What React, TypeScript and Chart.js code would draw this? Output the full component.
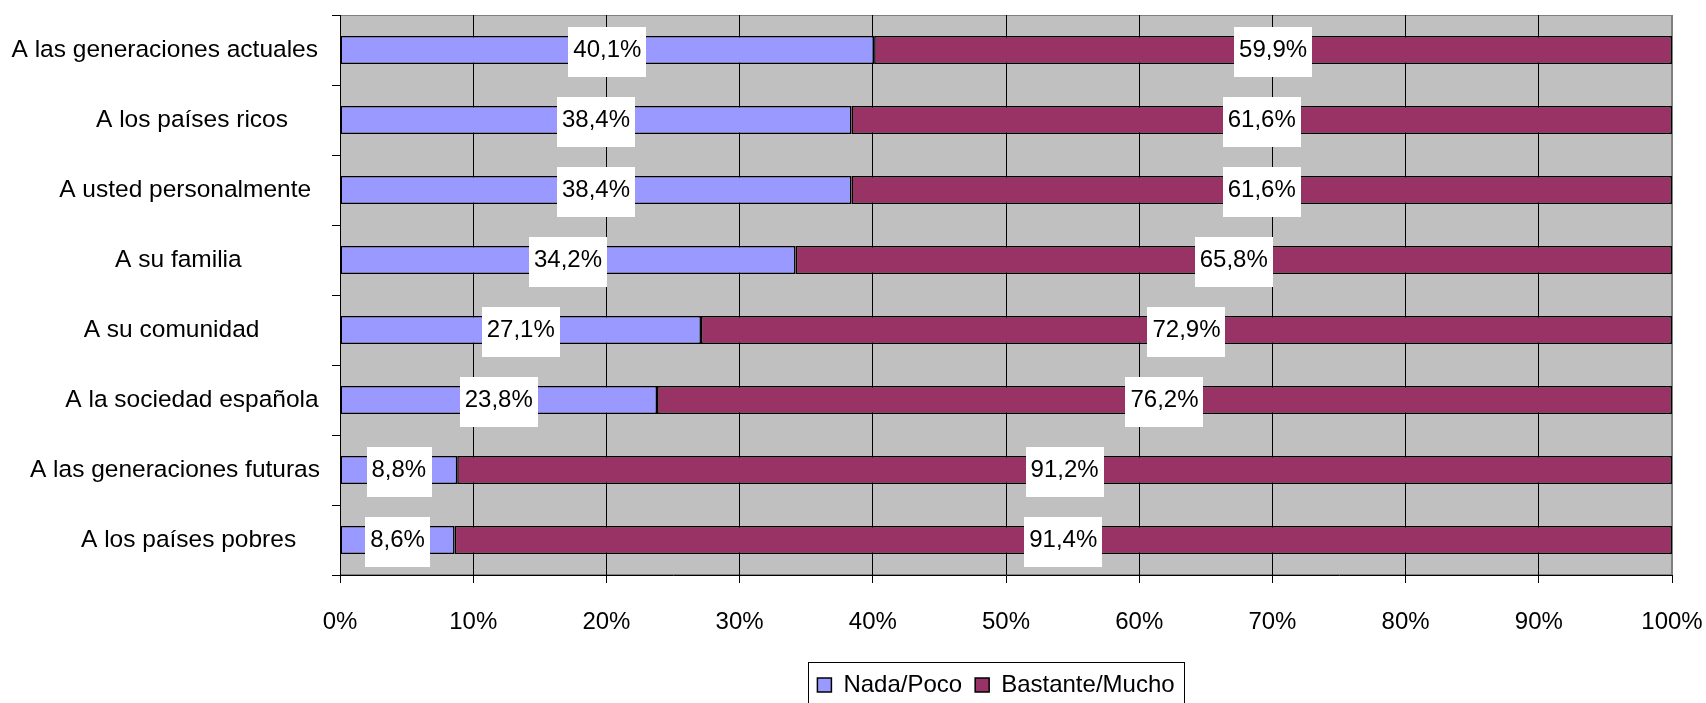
import React, { useEffect, useRef } from "react";
import { Chart, registerables } from "chart.js";

Chart.register(...registerables);

// Leading spaces reproduce the original label placement (centered in the label area)
const categories: string[] = [
  "A las generaciones actuales",
  "        A los países ricos",
  "      A usted personalmente",
  "    A su familia",
  "  A su comunidad",
  "        A la sociedad española",
  "   A las generaciones futuras",
  "       A los países pobres",
];

const nadaPoco: number[] = [40.1, 38.4, 38.4, 34.2, 27.1, 23.8, 8.8, 8.6];
const bastanteMucho: number[] = [59.9, 61.6, 61.6, 65.8, 72.9, 76.2, 91.2, 91.4];

const seriesNames: string[] = ["Nada/Poco", "Bastante/Mucho"];
const xTickValues: number[] = [0, 10, 20, 30, 40, 50, 60, 70, 80, 90, 100];

const FONT = '"Liberation Sans", Arial, sans-serif';

const fmt = (v: number) => v.toFixed(1).replace(".", ",") + "%";

const plotBg = {
  id: "plotBg",
  afterLayout(chart: any) {
    const lg = chart.legend;
    if (lg) {
      lg.left -= 10;
      lg.right -= 10;
    }
  },
  beforeDraw(chart: any) {
    const { ctx, chartArea: a } = chart;
    ctx.save();
    ctx.fillStyle = "#FFFFFF";
    ctx.fillRect(0, 0, chart.width, chart.height);
    ctx.fillStyle = "#C0C0C0";
    ctx.fillRect(a.left, a.top, a.right - a.left, a.bottom - a.top);
    ctx.strokeStyle = "#808080";
    ctx.lineWidth = 1;
    ctx.strokeRect(a.left + 0.5, a.top + 0.5, a.right - a.left - 1, a.bottom - a.top - 1);
    ctx.restore();
  },
};

const dataLabels = {
  id: "dataLabels",
  afterDatasetsDraw(chart: any) {
    const { ctx } = chart;
    ctx.save();
    ctx.font = `24px ${FONT}`;
    ctx.textAlign = "center";
    ctx.textBaseline = "middle";
    chart.data.datasets.forEach((ds: any, di: number) => {
      const meta = chart.getDatasetMeta(di);
      meta.data.forEach((bar: any, i: number) => {
        const { x, y, base } = bar.getProps(["x", "y", "base"], true);
        const cx = (x + base) / 2;
        const txt = fmt(ds.data[i]);
        const w = ctx.measureText(txt).width + 10;
        const h = 50;
        ctx.fillStyle = "#FFFFFF";
        ctx.fillRect(Math.round(cx - w / 2), Math.round(y - h / 2 + 2), Math.round(w), h);
        ctx.fillStyle = "#000000";
        ctx.fillText(txt, cx, y);
      });
    });
    ctx.restore();
  },
};

const legendBox = {
  id: "legendBox",
  afterDraw(chart: any) {
    const lg = chart.legend;
    if (!lg || !lg.legendHitBoxes || !lg.legendHitBoxes.length) return;
    const hbs = lg.legendHitBoxes;
    const first = hbs[0];
    const last = hbs[hbs.length - 1];
    const l = first.left - 9;
    const r = last.left + last.width + 10;
    const cy = first.top + first.height / 2;
    const { ctx } = chart;
    ctx.save();
    ctx.strokeStyle = "#000000";
    ctx.lineWidth = 1;
    ctx.strokeRect(Math.round(l) + 0.5, Math.round(cy - 23) + 0.5, Math.round(r - l), 60);
    ctx.restore();
  },
};

export default function App() {
  const canvasRef = useRef<HTMLCanvasElement | null>(null);

  useEffect(() => {
    if (!canvasRef.current) return;
    Chart.defaults.font.family = FONT;
    const chart = new Chart(canvasRef.current, {
      type: "bar",
      data: {
        labels: categories,
        datasets: [
          {
            label: seriesNames[0],
            data: nadaPoco,
            backgroundColor: "#9999FF",
            borderColor: "#000000",
            borderWidth: 1.5,
            borderSkipped: false,
            barPercentage: 0.4,
            categoryPercentage: 1,
          },
          {
            label: seriesNames[1],
            data: bastanteMucho,
            backgroundColor: "#993366",
            borderColor: "#000000",
            borderWidth: 1.5,
            borderSkipped: false,
            barPercentage: 0.4,
            categoryPercentage: 1,
          },
        ],
      },
      options: {
        indexAxis: "y",
        responsive: false,
        animation: false,
        layout: { padding: { top: 15, left: 0, right: 34, bottom: -4 } },
        plugins: {
          legend: {
            position: "bottom",
            fullSize: false,
            labels: {
              font: { size: 24, family: FONT },
              color: "#000000",
              boxWidth: 14,
              boxHeight: 14,
              padding: 13,
            },
          },
          tooltip: { enabled: false },
        },
        scales: {
          x: {
            stacked: true,
            min: 0,
            max: 100,
            afterBuildTicks(scale: any) {
              scale.ticks = xTickValues.map((v) => ({ value: v }));
            },
            ticks: {
              stepSize: 10,
              callback: (v: any) => v + "%",
              font: { size: 24, family: FONT },
              color: "#000000",
              padding: 25,
              maxRotation: 0,
            },
            grid: {
              color: (c: any) => (c.tick && c.tick.value === 100 ? "#808080" : "#000000"),
              tickColor: "#000000",
              tickLength: 8,
              lineWidth: 1,
            },
            border: { color: "#000000", width: 1 },
            afterFit(scale: any) {
              scale.height = 85;
              scale.paddingLeft = 0;
              scale.paddingRight = 0;
            },
          },
          y: {
            stacked: true,
            grid: {
              drawOnChartArea: false,
              drawTicks: true,
              tickLength: 8,
              color: "#000000",
              offset: true,
            },
            border: { color: "#000000", width: 1 },
            ticks: {
              font: { size: 24.5, family: FONT },
              color: "#000000",
              crossAlign: "center",
              padding: 12,
              autoSkip: false,
            },
            afterFit(scale: any) {
              scale.width = 340;
              scale.paddingTop = 0;
              scale.paddingBottom = 0;
            },
          },
        },
      },
      plugins: [plotBg, dataLabels, legendBox],
    } as any);
    return () => chart.destroy();
  }, []);

  return (
    <div style={{ position: "fixed", left: 0, top: 0, width: 1706, height: 703, background: "#fff" }}>
      <canvas ref={canvasRef} width={1706} height={703} style={{ display: "block" }} />
    </div>
  );
}
